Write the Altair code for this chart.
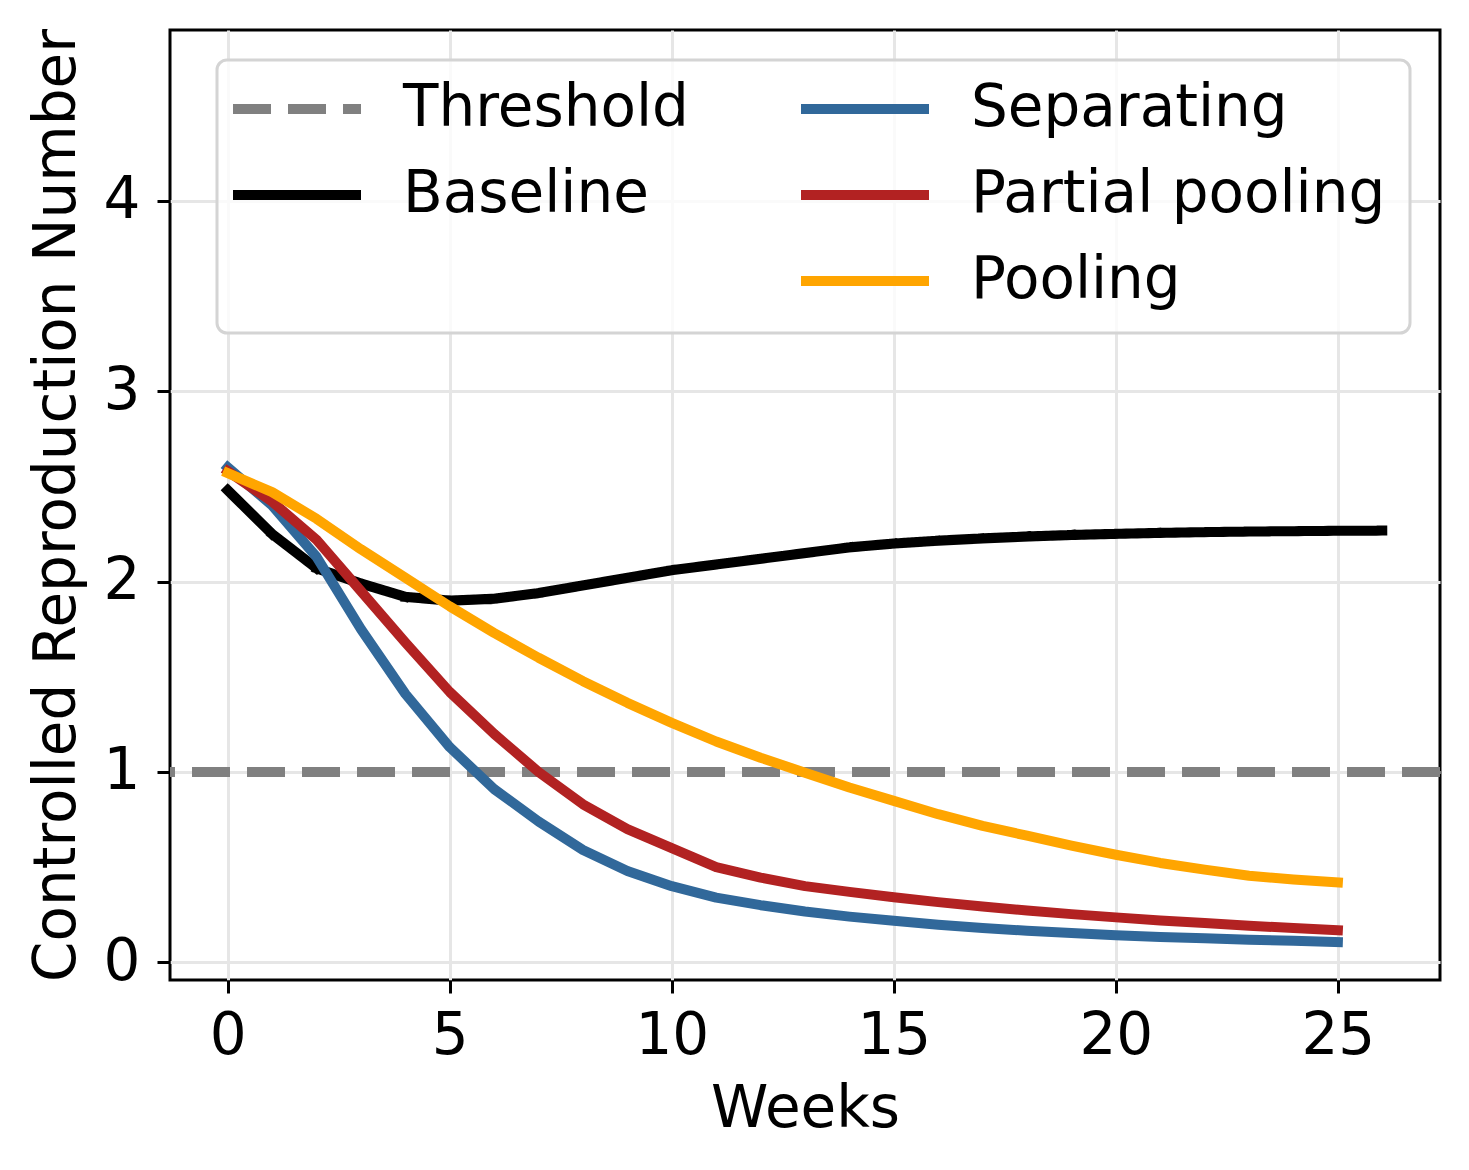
import altair as alt
import pandas as pd

# ---- data ----
weeks_baseline = list(range(27))
weeks = list(range(26))
baseline = [2.48, 2.25, 2.07, 1.99, 1.92, 1.90, 1.91, 1.94, 1.98, 2.02, 2.06, 2.09,
            2.12, 2.15, 2.18, 2.20, 2.215, 2.227, 2.237, 2.245, 2.251, 2.256, 2.26,
            2.263, 2.265, 2.267, 2.268]
separating = [2.60, 2.40, 2.13, 1.75, 1.41, 1.13, 0.91, 0.74, 0.59, 0.48, 0.40, 0.34,
              0.30, 0.267, 0.24, 0.218, 0.197, 0.18, 0.166, 0.154, 0.142, 0.133, 0.126,
              0.119, 0.113, 0.106]
partial_pooling = [2.58, 2.42, 2.22, 1.95, 1.68, 1.42, 1.20, 1.00, 0.83, 0.70, 0.60, 0.50,
                   0.445, 0.40, 0.37, 0.342, 0.316, 0.293, 0.272, 0.253, 0.236, 0.22,
                   0.206, 0.192, 0.18, 0.168]
pooling = [2.57, 2.47, 2.33, 2.17, 2.02, 1.87, 1.73, 1.60, 1.477, 1.363, 1.258, 1.16,
           1.075, 0.996, 0.918, 0.848, 0.778, 0.717, 0.665, 0.613, 0.565, 0.522, 0.487,
           0.455, 0.435, 0.42]
threshold = [1.0]

series_a = ["Threshold", "Baseline"]
series_b = ["Separating", "Partial pooling", "Pooling"]
colors_a = ["#808080", "#000000"]
colors_b = ["#31689a", "#b22222", "#ffa500"]
x_ticks = [0, 5, 10, 15, 20, 25]
y_ticks = [0, 1, 2, 3, 4]

FONT = "DejaVu Sans"
FS = 58
LW = 10

df_thr = pd.DataFrame({"value": threshold, "series": ["Threshold"]})
df_base = pd.DataFrame({"week": weeks_baseline, "value": baseline, "series": "Baseline"})
df_sep = pd.DataFrame({"week": weeks, "value": separating, "series": "Separating"})
df_par = pd.DataFrame({"week": weeks, "value": partial_pooling, "series": "Partial pooling"})
df_poo = pd.DataFrame({"week": weeks, "value": pooling, "series": "Pooling"})

x_enc = alt.X("week:Q", scale=alt.Scale(domain=[-1.3, 27.3], nice=False, zero=False),
              axis=alt.Axis(values=x_ticks, title="Weeks", format="d"))
y_enc = alt.Y("value:Q", scale=alt.Scale(domain=[-0.093, 4.898], nice=False, zero=False),
              axis=alt.Axis(values=y_ticks, title="Controlled Reproduction Number", format="d"))


def make_legend(lx, ly):
    return alt.Legend(title=None, orient="none", legendX=lx, legendY=ly,
                      symbolType="stroke", symbolSize=16384, symbolStrokeWidth=LW,
                      labelFontSize=FS, labelFont=FONT, labelColor="black",
                      labelOffset=37, labelLimit=2000, rowPadding=0, padding=0,
                      symbolOffset=0, clipHeight=86)


leg_a = make_legend(58, 36)
leg_b = make_legend(626, 36)

color_a = alt.Color("series:N", scale=alt.Scale(domain=series_a, range=colors_a), legend=leg_a)
dash_a = alt.StrokeDash("series:N", scale=alt.Scale(domain=series_a, range=[[38, 17], [1, 0]]),
                        legend=leg_a)
color_b = alt.Color("series:N", scale=alt.Scale(domain=series_b, range=colors_b), legend=leg_b)

frame = alt.Chart(pd.DataFrame({"a": [0]})).mark_rect(
    fill="white", fillOpacity=0.8, stroke="#d4d4d4", strokeWidth=3, cornerRadius=10
).encode(x=alt.value(47), x2=alt.value(1240), y=alt.value(30), y2=alt.value(303))

thr = alt.Chart(df_thr).mark_rule(strokeWidth=LW, strokeCap="butt").encode(
    y=y_enc, color=color_a, strokeDash=dash_a)
base = alt.Chart(df_base).mark_line(strokeWidth=LW, strokeCap="square", strokeJoin="round").encode(
    x=x_enc, y=y_enc, color=color_a, strokeDash=dash_a)
layer_a = alt.layer(thr, base)


def line_b(df):
    return alt.Chart(df).mark_line(strokeWidth=LW, strokeCap="square", strokeJoin="round").encode(
        x=x_enc, y=y_enc, color=color_b)


layer_b = alt.layer(line_b(df_sep), line_b(df_par), line_b(df_poo))

chart = alt.layer(frame, layer_a, layer_b).resolve_scale(
    color="independent", strokeDash="independent"
).properties(
    width=1270, height=950,
    autosize=alt.AutoSizeParams(type="none"),
    padding={"left": 162, "top": 22, "right": 20, "bottom": 170},
).configure_view(
    stroke="black", strokeWidth=3
).configure_axis(
    domain=False, grid=True, gridColor="#e6e6e6", gridWidth=3,
    ticks=True, tickColor="black", tickWidth=3, tickSize=13,
    labelFont=FONT, labelFontSize=FS, labelColor="black",
    titleFont=FONT, titleFontSize=FS, titleFontWeight="normal", titleColor="black",
).configure_axisX(
    labelPadding=14, titlePadding=15
).configure_axisY(
    labelPadding=17, titlePadding=17
)

chart.save("out.html", embed_options={"renderer": "svg", "actions": False})
